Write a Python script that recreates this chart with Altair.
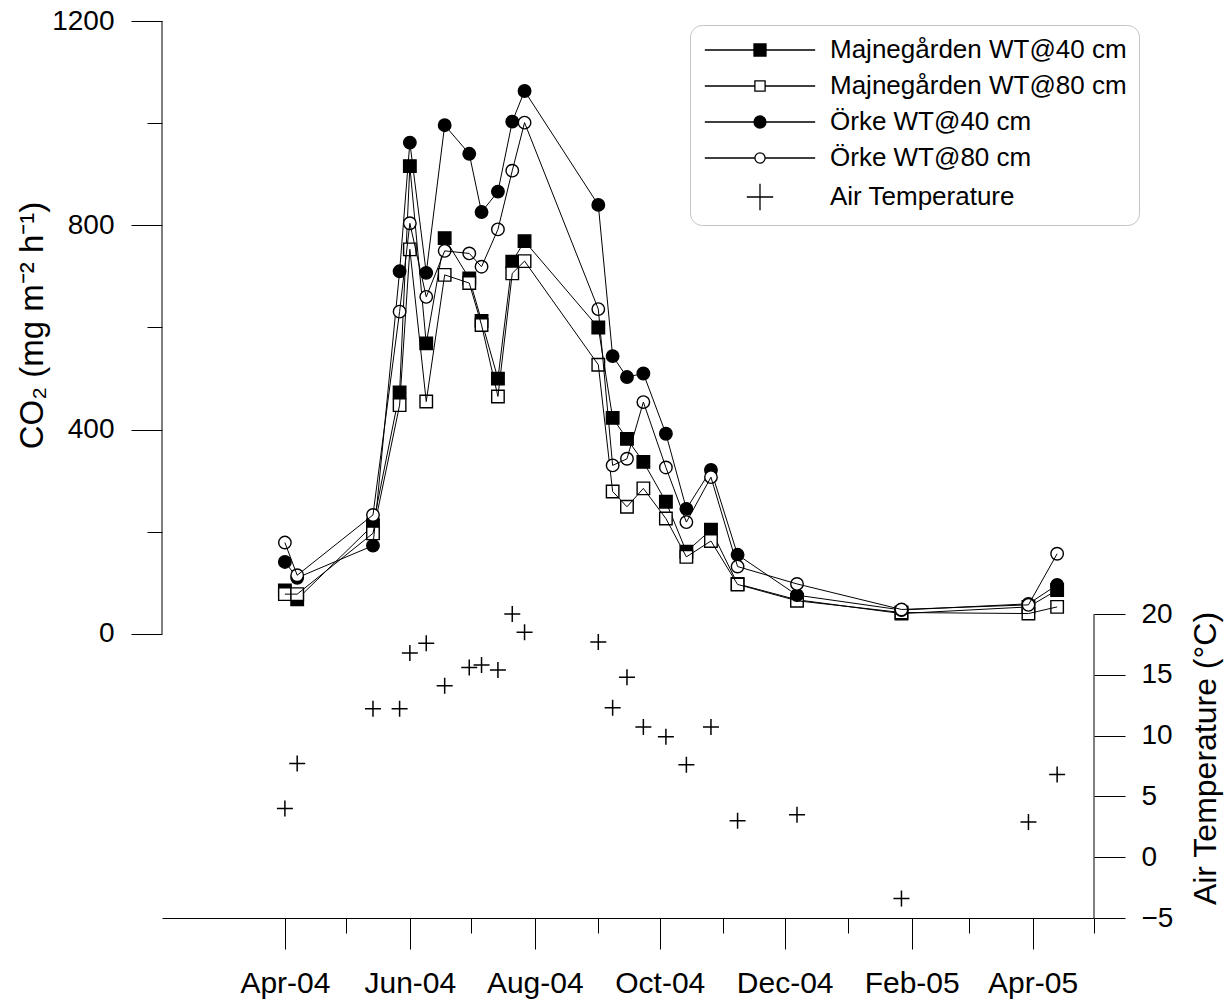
import altair as alt
import pandas as pd

FONT = "Liberation Sans"

# ---------------- data ----------------
dates = ["2004-04-01", "2004-04-07", "2004-05-14", "2004-05-27", "2004-06-01",
         "2004-06-09", "2004-06-18", "2004-06-30", "2004-07-06", "2004-07-14",
         "2004-07-21", "2004-07-27", "2004-09-01", "2004-09-08", "2004-09-15",
         "2004-09-23", "2004-10-04", "2004-10-14", "2004-10-26", "2004-11-08",
         "2004-12-07", "2005-01-27", "2005-03-30", "2005-04-13"]

series_names = ["Majnegården WT@40 cm", "Majnegården WT@80 cm",
                "Örke WT@40 cm", "Örke WT@80 cm"]
temp_name = "Air Temperature"

majne_40 = [85, 68, 213, 473, 916, 569, 775, 696, 613, 500, 729, 769,
            600, 423, 382, 337, 259, 161, 204, 98, 67, 40, 53, 86]
majne_80 = [78, 78, 197, 448, 753, 455, 703, 687, 605, 465, 706, 730,
            527, 279, 249, 285, 226, 151, 182, 97, 65, 42, 40, 53]
orke_40 = [141, 110, 173, 710, 962, 707, 996, 940, 826, 866, 1003, 1063,
           840, 544, 503, 510, 392, 245, 321, 155, 76, 47, 59, 96]
orke_80 = [179, 115, 233, 631, 804, 660, 750, 745, 719, 792, 907, 1001,
           636, 330, 343, 454, 326, 219, 307, 132, 98, 48, 57, 157]
air_temp = [4.0, 7.7, 12.2, 12.2, 16.8, 17.6, 14.1, 15.6, 15.8, 15.4, 20.0, 18.5,
            17.7, 12.3, 14.8, 10.7, 9.9, 7.6, 10.7, 3.0, 3.5, -3.4, 2.9, 6.8]

co2_ticks = [0, 200, 400, 600, 800, 1000, 1200]
temp_ticks = [-5, 0, 5, 10, 15, 20]
month_ticks = [(2004, m) for m in range(4, 13)] + [(2005, m) for m in range(1, 6)]
co2_domain = [-556, 1200]
temp_domain = [-5, 68.77]
x_start = (2004, 2, 1)
x_end = (2005, 5, 1)

marker_shapes = ["square", "square", "circle", "circle"]
marker_fills = ["black", "white", "black", "white"]

# legend symbols (line + marker) as SVG paths
legend_labels = series_names + [temp_name]
legend_paths = [
    "M-9.2,0H-1M1,0H9.2M-1,-1H1V1H-1Z",
    "M-9.2,0H-0.85M0.85,0H9.2M-0.85,-0.85H0.85V0.85H-0.85Z",
    "M-9.2,0H-1M1,0H9.2M1,0A1,1,0,1,1,-1,0A1,1,0,1,1,1,0Z",
    "M-9.2,0H-0.85M0.85,0H9.2M0.85,0A0.85,0.85,0,1,1,-0.85,0A0.85,0.85,0,1,1,0.85,0Z",
    "M-2.2,0H2.2M0,-2.2V2.2",
]
legend_fills = ["black", "white", "black", "white", "white"]
legend_strokes = ["black"] * 5
CROSS = "M-1,0H1M0,-1V1"

# ---------------- tables ----------------
rows = []
for name, vals in zip(series_names, [majne_40, majne_80, orke_40, orke_80]):
    for d, v in zip(dates, vals):
        rows.append({"date": d, "series": name, "co2": v})
df_co2 = pd.DataFrame(rows)
df_temp = pd.DataFrame({"date": dates, "temp": air_temp})
df_left_axis = pd.DataFrame({"date": ["%04d-%02d-%02d" % x_start],
                             "co2": [co2_ticks[0]], "co2_hi": [co2_ticks[-1]]})
df_right_axis = pd.DataFrame({"date": ["%04d-%02d-%02d" % x_end],
                              "temp": [temp_ticks[0]], "temp_hi": [temp_ticks[-1]]})
df_legend = pd.DataFrame({"label": legend_labels})


def dt(y, m, d=1):
    return alt.DateTime(year=y, month=m, date=d, utc=True)


common_axis = dict(grid=False, labelFont=FONT, labelColor="black",
                   titleFont=FONT, titleFontWeight="normal",
                   titleColor="black", tickColor="black", tickWidth=1,
                   domainColor="black", domainWidth=1, labelOverlap=False)

x_enc = alt.X(
    "date:T",
    scale=alt.Scale(type="utc", domain=[dt(*x_start), dt(*x_end)], nice=False),
    axis=alt.Axis(
        values=[dt(y, m) for y, m in month_ticks],
        labelExpr="utcmonth(datum.value) % 2 == 1 ? utcFormat(datum.value, '%b-%y') : ''",
        tickSize={"condition": {"test": "utcmonth(datum.value) % 2 == 1", "value": 31},
                  "value": 15},
        title=None, labelAngle=0, labelFlush=False, labelFontSize=30, labelPadding=19,
        **common_axis),
)

y_co2 = alt.Y(
    "co2:Q",
    scale=alt.Scale(domain=co2_domain, nice=False, zero=False),
    axis=alt.Axis(
        values=co2_ticks, format="d",
        labelExpr="datum.value % 400 == 0 ? datum.label : ''",
        tickSize={"condition": {"test": "datum.value % 400 == 0", "value": 31},
                  "value": 15},
        domain=False, orient="left", labelFontSize=28, labelPadding=17,
        title="CO₂ (mg m⁻² h⁻¹)", titleFontSize=33, titleAngle=270, titleX=-130, titleY=304,
        titleAlign="center", titleBaseline="middle",
        **common_axis),
)

y_temp = alt.Y(
    "temp:Q",
    scale=alt.Scale(domain=temp_domain, nice=False, zero=False),
    axis=alt.Axis(
        values=temp_ticks, format="d", tickSize=31,
        domain=False, orient="right", labelFontSize=28, labelPadding=16,
        title="Air Temperature (°C)", titleFontSize=32, titleAngle=270, titleX=111,
        titleY=737, titleAlign="center", titleBaseline="middle",
        **common_axis),
)

layers = []
for name, shp, fil in zip(series_names, marker_shapes, marker_fills):
    base = alt.Chart(df_co2).transform_filter(alt.datum.series == name)
    pts = base.mark_point(shape=shp, fill=fil, filled=False, size=156, stroke="black",
                          strokeWidth=1.4, opacity=1, fillOpacity=1).encode(x=x_enc, y=y_co2)
    ln = base.mark_line(color="black", strokeWidth=1).encode(x=x_enc, y=y_co2)
    layers += [pts, ln]

left_rule = alt.Chart(df_left_axis).mark_rule(color="black", strokeWidth=1).encode(
    x=x_enc, y=y_co2, y2="co2_hi:Q")
left = alt.layer(*layers, left_rule)

temp_pts = alt.Chart(df_temp).mark_point(shape=CROSS, size=256, filled=False,
                                         stroke="black", strokeWidth=1.5,
                                         opacity=1).encode(x=x_enc, y=y_temp)
right_rule = alt.Chart(df_right_axis).mark_rule(color="black", strokeWidth=1).encode(
    x=x_enc, y=y_temp, y2="temp_hi:Q")
right = alt.layer(temp_pts, right_rule)

leg = alt.Legend(title=None, orient="none", legendX=528, legendY=4, direction="vertical",
                 labelFont=FONT, labelFontSize=26, labelColor="black", labelLimit=600,
                 symbolSize=144, symbolOffset=45, labelOffset=57,
                 symbolStrokeColor="black", symbolStrokeWidth=1.3,
                 strokeColor="#c4c4c4", cornerRadius=12, fillColor="white",
                 padding=12, rowPadding=10)
legend_layer = alt.Chart(df_legend).transform_filter("false").mark_point(
    filled=False, strokeWidth=1.3, size=144, opacity=1, fillOpacity=1).encode(
    shape=alt.Shape("label:N", scale=alt.Scale(domain=legend_labels, range=legend_paths),
                    legend=leg),
    fill=alt.Fill("label:N", scale=alt.Scale(domain=legend_labels, range=legend_fills),
                  legend=leg),
    stroke=alt.Stroke("label:N", scale=alt.Scale(domain=legend_labels, range=legend_strokes),
                      legend=leg),
)

chart = alt.layer(left, right, legend_layer).resolve_scale(
    y="independent"
).properties(
    width=932, height=897,
    autosize=alt.AutoSizeParams(type="none"),
    padding={"left": 162, "top": 21, "right": 132, "bottom": 83},
    background="white",
).configure_view(stroke=None)

chart.save("out.html", embed_options={"renderer": "svg", "actions": False})
